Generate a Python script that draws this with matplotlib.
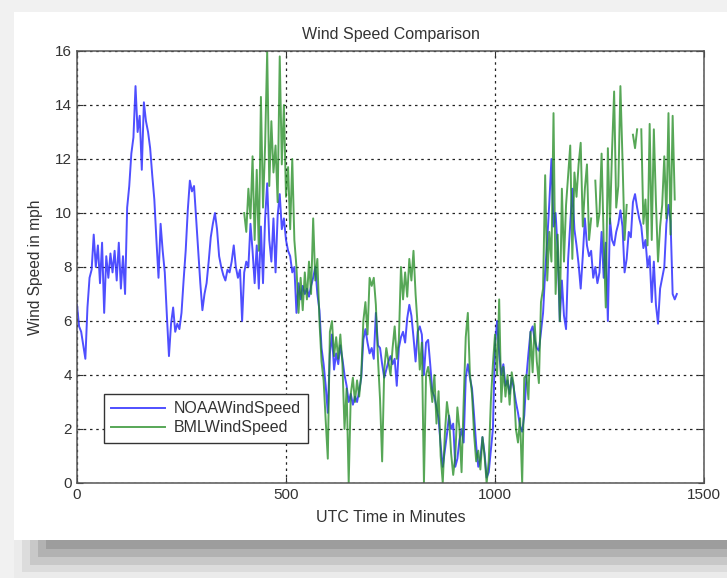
import numpy as np
import matplotlib
matplotlib.use("Agg")
import matplotlib.pyplot as plt
from matplotlib.patches import Rectangle

plt.rcParams['font.family'] = ['Liberation Sans', 'DejaVu Sans']

# NOAA wind speed, one reading every 5 minutes from 0 to 1435
noaa_start, noaa_step = 0, 5
noaa_speed = [
    6.6, 5.8, 5.6, 5.1, 4.6, 6.5, 7.6, 7.9, 9.2, 8.0, 8.8,
    7.4, 8.9, 6.3, 8.4, 7.6, 8.5, 7.8, 8.6, 7.5, 8.9, 7.2, 8.4, 7.0,
    10.2, 11.0, 12.2, 12.8, 14.7, 13.0, 13.6, 11.6, 14.1,
    13.4, 13.0, 12.4, 11.4, 10.5, 9.0, 7.6, 9.6, 8.6, 7.8, 6.2,
    4.7, 5.9, 6.5, 5.6, 5.9, 5.7, 6.3, 7.5, 8.6, 10.1, 11.2, 10.8, 11.0, 9.8, 8.6, 7.4, 6.4,
    7.0, 7.4, 8.2, 9.1, 9.6, 10.0, 9.4,
    8.4, 8.0, 7.7, 7.5, 7.9, 7.8, 8.2, 8.8, 8.0, 7.6, 7.9, 6.0, 7.8, 8.2, 8.0, 9.6, 8.6,
    7.4, 8.8, 7.2, 9.5, 7.4, 9.8, 11.1, 9.0, 8.2, 9.8, 7.8, 9.9, 10.7, 9.4, 9.8, 9.0, 8.6, 8.4, 7.8, 8.0,
    6.3, 7.4, 6.8, 7.3, 7.0, 7.2, 6.9, 7.3, 7.6, 8.0, 7.0, 6.4, 5.0, 4.4, 3.6, 2.6,
    4.8, 5.5, 4.2, 4.8, 4.4, 5.1, 4.6, 4.0, 3.6, 3.0, 3.3, 2.9, 3.2, 3.0, 3.4, 3.9, 5.3, 5.7, 5.2, 4.8,
    5.0, 4.6, 6.3, 5.1, 5.0, 4.4, 3.9, 4.2, 4.5, 4.7, 4.4, 4.6, 3.6, 5.0, 5.4, 5.6, 5.2, 6.1, 6.6, 6.2,
    5.4, 4.5, 5.6, 5.8, 5.5, 4.0, 5.2, 5.3, 4.4, 3.4, 3.2, 2.8, 2.4, 1.4, 0.6, 1.2, 1.8, 2.5, 2.0, 2.2,
    0.6, 0.9, 1.6, 2.0, 1.5, 3.9, 4.4, 3.9, 3.5, 2.5, 1.4, 0.6, 0.9, 1.7, 1.1, 0.2, 0.4, 1.2, 2.0, 5.1,
    6.0, 4.8, 4.0, 4.4, 3.6, 3.8, 3.3, 3.9, 3.5, 3.0, 2.6, 2.1, 1.9, 2.5, 3.9, 4.8, 5.6, 5.8, 5.3, 5.0,
    4.9, 5.6, 6.3, 7.8, 9.0, 10.4, 12.0, 9.5, 10.0, 8.6, 6.0, 7.5, 6.2, 5.7, 8.3, 9.6, 10.9, 9.4, 8.8, 8.1,
    7.2, 8.4, 9.8, 8.8, 8.4, 8.6, 7.6, 8.0, 7.4, 7.8, 9.3, 7.6, 8.9, 6.0, 9.8, 9.0, 8.8, 9.3, 9.6, 10.1,
    9.5, 7.8, 8.3, 9.3, 9.1, 10.4, 10.7, 10.2, 9.8, 9.5, 8.7, 9.0, 8.0, 8.4, 6.7, 8.2, 6.6, 5.9, 7.2, 7.6,
    8.0, 9.6, 10.3, 9.7, 7.0, 6.8, 7.0,
]

# BML wind speed, one reading every 5 minutes from 380 to 1435 (nan = missing)
nan = float('nan')
bml_start, bml_step = 380, 5
bml_speed = [
    nan, 10.4, nan, nan, 10.0, 9.3, 10.9, 9.8, 12.1, 9.0, 11.6, 8.6, 14.3, 10.2, 12.5, 16.0,
    11.0, 13.4, 11.5, 12.5, 10.4, 15.8, 11.8, 14.0, 10.6, 11.7, 9.4, 12.0, 9.0, 8.0, 6.3, 7.6,
    6.4, 7.8, 6.8, 8.2, 7.0, 9.8, 7.5, 8.3, 6.0, 4.5, 3.8, 2.3, 0.9, 5.6, 6.0, 4.7, 5.4, 4.6,
    5.5, 4.4, 2.0, 3.5, 0.0, 3.3, 3.9, 3.0, 3.8, 3.2, 4.0, 6.0, 6.7, 5.5, 7.6, 7.3, 7.6, 6.6,
    4.6, 3.1, 0.8, 4.2, 5.0, 4.5, 4.0, 5.0, 5.8, 4.6, 5.3, 8.0, 6.8, 7.8, 6.9, 8.3, 7.5, 8.6,
    7.0, 5.8, 4.2, 5.2, 0.0, 4.0, 4.3, 3.8, 3.0, 4.0, 2.2, 3.4, 1.0, 0.0, 1.8, 3.0, 2.4, 1.1,
    0.3, 1.0, 2.8, 2.0, 0.4, 3.0, 5.4, 6.3, 4.0, 3.3, 1.8, 0.8, 1.2, 0.5, 1.7, 1.0, 0.0, 0.8,
    3.0, 4.4, 5.5, 4.0, 6.8, 3.0, 4.3, 3.2, 4.0, 2.9, 4.1, 3.6, 2.0, 1.5, 2.4, 0.0, 3.9, 4.0,
    3.1, 5.6, 4.1, 5.9, 4.5, 3.7, 6.7, 7.2, 11.4, 7.5, 9.3, 8.2, 13.7, 7.0, 9.2, 6.0, 10.9, 8.2,
    10.3, 11.4, 12.5, 8.3, 11.5, 10.6, 11.8, 12.6, 9.5, 10.9, 11.8, 9.0, 9.8, nan, 11.2, 9.5,
    10.0, 12.2, 9.0, 6.5, 12.4, 9.6, 12.3, 14.5, 10.2, 11.0, 14.7, 12.0, 9.0, 10.3, nan, nan,
    12.9, 12.4, 13.1, nan, 13.1, 9.6, 10.5, 8.8, 13.3, 9.0, 13.1, 10.4, 8.2, 9.5, 10.3, 12.1,
    9.8, 13.7, 9.2, 13.6, 10.5, nan,
]

x_ticks = [0, 500, 1000, 1500]
y_ticks = [0, 2, 4, 6, 8, 10, 12, 14, 16]

noaa_t = noaa_start + noaa_step * np.arange(len(noaa_speed))
bml_t = bml_start + bml_step * np.arange(len(bml_speed))

fig = plt.figure(figsize=(7.27, 5.78), dpi=100)
fig.patch.set_facecolor('#f1f1f1')

# shadowed white panel behind the plot (pixel boxes converted to figure fractions)
W, H = 727.0, 578.0
def px_box(x0, y0, x1, y1, color):
    fig.patches.append(Rectangle((x0 / W, 1 - y1 / H), (x1 - x0) / W, (y1 - y0) / H,
                                 transform=fig.transFigure, facecolor=color,
                                 edgecolor='none', zorder=-5))

px_box(14, 540, 727, 578, '#ebebeb')
px_box(22, 540, 727, 572, '#dcdcdc')
px_box(30, 540, 727, 565, '#c8c8c8')
px_box(38, 540, 727, 557, '#b2b2b2')
px_box(46, 540, 727, 549, '#9d9d9d')
px_box(14, 12, 727, 540, 'white')

ax = fig.add_axes([77 / W, 95 / H, 627 / W, 432 / H])
ax.set_zorder(2)

ax.plot(noaa_t, noaa_speed, color='#3030ff', lw=1.4, alpha=0.85, label='NOAAWindSpeed')
ax.plot(bml_t, bml_speed, color='#1f8a1f', lw=1.4, alpha=0.75, label='BMLWindSpeed')

ax.set_xlim(0, 1500)
ax.set_ylim(0, 16)
ax.set_xticks(x_ticks)
ax.set_yticks(y_ticks)
ax.grid(True, color='#222222', linestyle=(0, (2, 3)), linewidth=0.9)
ax.tick_params(direction='in', length=4, labelsize=11, colors='#333333', top=True, right=True)
for s in ax.spines.values():
    s.set_color('#555555')
    s.set_linewidth(1.1)

ax.set_title('Wind Speed Comparison', fontsize=11.5, color='#333333', pad=9)
ax.set_xlabel('UTC Time in Minutes', fontsize=11.5, color='#333333', labelpad=6)
ax.set_ylabel('Wind Speed in mph', fontsize=11.2, color='#333333', labelpad=9)

leg = ax.legend(loc='lower left', bbox_to_anchor=(0.03, 0.075), fontsize=11.5,
                handlelength=3.4, fancybox=False, framealpha=1, borderpad=0.45,
                labelspacing=0.25, handletextpad=0.5)
leg.get_frame().set_edgecolor('#333333')
leg.get_frame().set_linewidth(1.0)
for t in leg.get_texts():
    t.set_color('#333333')

fig.savefig('out.png', dpi=100, facecolor=fig.get_facecolor())
